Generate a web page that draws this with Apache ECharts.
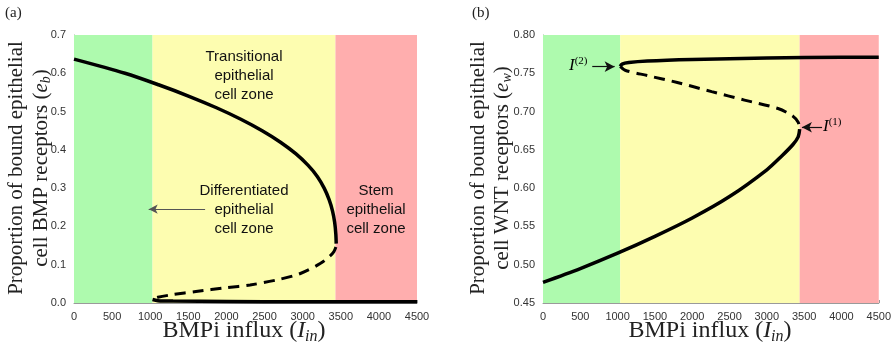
<!DOCTYPE html>
<html>
<head>
<meta charset="utf-8">
<script src="https://cdn.jsdelivr.net/npm/echarts@6/dist/echarts.min.js"></script>
<style>
html,body{margin:0;padding:0;background:#fff;}
#c{width:894px;height:346px;}
</style>
</head>
<body>
<div id="c"></div>
<script>
// ---------- data ----------
const xTicks = [0, 500, 1000, 1500, 2000, 2500, 3000, 3500, 4000, 4500];
const yTicksA = [0, 0.1, 0.2, 0.3, 0.4, 0.5, 0.6, 0.7];
const yTicksB = [0.45, 0.5, 0.55, 0.6, 0.65, 0.7, 0.75, 0.8];

const zoneBoundsA = [0, 1030, 3430, 4500];
const zoneBoundsB = [0, 1035, 3440, 4500];
const zoneNames = ['differentiated', 'transitional', 'stem'];

// Panel (a): e_b
const aUpperX = [0, 669, 1109, 1509, 1869, 2189, 2469, 2709, 2909, 3069, 3194, 3282, 3347, 3392, 3420, 3435, 3440];
const aUpperY = [0.637, 0.600, 0.570, 0.540, 0.510, 0.480, 0.450, 0.420, 0.390, 0.360, 0.330, 0.300, 0.270, 0.240, 0.210, 0.180, 0.155];
const aMidX = [3436, 3410, 3360, 3230, 2970, 2700, 2310, 2000, 1600, 1300, 1100, 1030];
const aMidY = [0.146, 0.134, 0.123, 0.103, 0.077, 0.062, 0.047, 0.040, 0.030, 0.022, 0.015, 0.010];
const aLowerX = [1030, 1100, 1300, 2000, 3000, 4000, 4500];
const aLowerY = [0.009, 0.006, 0.005, 0.004, 0.003, 0.003, 0.003];

// Panel (b): e_w
const bUpperX = [1035, 1060, 1150, 1400, 2000, 3000, 4000, 4500];
const bUpperY = [0.759, 0.762, 0.764, 0.766, 0.768, 0.770, 0.771, 0.771];
const bMidX = [1035, 1100, 1400, 1800, 2260, 2700, 3150, 3350, 3420, 3440];
const bMidY = [0.759, 0.754, 0.747, 0.738, 0.726, 0.715, 0.704, 0.694, 0.686, 0.678];
const bLowerX = [0, 500, 1000, 1500, 2000, 2500, 3000, 3200, 3350, 3420, 3440];
const bLowerY = [0.477, 0.495, 0.515, 0.537, 0.561, 0.589, 0.624, 0.642, 0.657, 0.667, 0.677];

// ---------- helpers ----------
const pairs = (xs, ys) => xs.map((x, i) => [x, ys[i]]);
const zoneColors = ['#aefaae', '#fdfdb0', '#ffaeae'];
const zonesFrom = b => zoneNames.map((n, i) => [
  {xAxis: b[i], itemStyle: {color: zoneColors[i]}},
  {xAxis: b[i + 1]}
]);

const tickFont = {fontFamily: 'Liberation Sans, Arial, sans-serif', fontSize: 11, color: '#333'};
const serif = 'Liberation Serif, DejaVu Serif, serif';

function xAxisCfg(gi) {
  return {
    type: 'value', gridIndex: gi, min: 0, max: 4500, interval: 500,
    axisLine: {show: true, onZero: false, lineStyle: {color: '#9a9a9a', width: 1}},
    axisTick: {show: true, inside: true, length: 3, lineStyle: {color: '#9a9a9a'}},
    axisLabel: Object.assign({margin: 8, formatter: v => String(v)}, tickFont),
    splitLine: {show: false}
  };
}
function yAxisCfg(gi, min, max, interval, dec) {
  return {
    type: 'value', gridIndex: gi, min: min, max: max, interval: interval,
    axisLine: {show: true, onZero: false, lineStyle: {color: '#9a9a9a', width: 1}},
    axisTick: {show: true, inside: true, length: 3, lineStyle: {color: '#9a9a9a'}},
    axisLabel: Object.assign({margin: 8, formatter: v => v.toFixed(dec)}, tickFont),
    splitLine: {show: false}
  };
}
const solid = {color: '#000', width: 3.5};
const dashed = {color: '#000', width: 3, type: [11, 7]};
function lineSeries(gi, data, style, extra) {
  return Object.assign({
    type: 'line', xAxisIndex: gi, yAxisIndex: gi, data: data,
    showSymbol: false, symbol: 'none', lineStyle: style, silent: true,
    smooth: 0.3, animation: false, z: 5
  }, extra || {});
}

const richLabel = {
  n: {fontFamily: serif, fontSize: 21, color: '#222'},
  i: {fontFamily: serif, fontSize: 21, fontStyle: 'italic', color: '#222'},
  s: {fontFamily: serif, fontSize: 14, fontStyle: 'italic', color: '#222', verticalAlign: 'bottom', lineHeight: 24}
};
const richX = {
  n: {fontFamily: serif, fontSize: 24, color: '#222'},
  i: {fontFamily: serif, fontSize: 24, fontStyle: 'italic', color: '#222'},
  s: {fontFamily: serif, fontSize: 16, fontStyle: 'italic', color: '#222', verticalAlign: 'bottom', lineHeight: 28}
};
const annFont = {fontFamily: 'Liberation Sans, Arial, sans-serif', fontSize: 15, fill: '#111', lineHeight: 19};
const supRich = {
  i: {fontFamily: serif, fontSize: 17, fontStyle: 'italic', color: '#111'},
  p: {fontFamily: serif, fontSize: 11, color: '#111', verticalAlign: 'top', lineHeight: 20}
};

function vText(x, y, str) {
  return {type: 'text', x: x, y: y, rotation: Math.PI / 2, silent: true, z: 100,
    style: {text: str, rich: richLabel, align: 'center', verticalAlign: 'middle', fontFamily: serif, fontSize: 21, fill: '#222'}};
}
function hText(x, y, str) {
  return {type: 'text', x: x, y: y, silent: true, z: 100,
    style: {text: str, rich: richX, align: 'center', verticalAlign: 'middle', fontFamily: serif, fontSize: 24, fill: '#222'}};
}
function annText(x, y, str) {
  return {type: 'text', x: x, y: y, silent: true, z: 100,
    style: Object.assign({text: str, align: 'center', verticalAlign: 'top'}, annFont)};
}

const chart = echarts.init(document.getElementById('c'), null, {renderer: 'canvas'});
chart.setOption({
  animation: false,
  backgroundColor: '#fff',
  grid: [
    {left: 74, top: 35, width: 343, height: 268},
    {left: 543, top: 35, width: 336, height: 268}
  ],
  xAxis: [xAxisCfg(0), xAxisCfg(1)],
  yAxis: [yAxisCfg(0, 0, 0.7, 0.1, 1), yAxisCfg(1, 0.45, 0.8, 0.05, 2)],
  series: [
    lineSeries(0, [], solid, {markArea: {silent: true, z: 1, data: zonesFrom(zoneBoundsA)}, z: 1}),
    lineSeries(0, pairs(aUpperX, aUpperY), solid),
    lineSeries(0, pairs(aMidX, aMidY), dashed),
    lineSeries(0, pairs(aLowerX, aLowerY), solid, {
      markLine: {silent: true, symbol: ['none', 'arrow'], symbolSize: [7, 9],
        label: {show: false}, lineStyle: {color: '#555', width: 1, type: 'solid'},
        data: [[{coord: [1720, 0.245]}, {coord: [980, 0.245]}]]}
    }),
    lineSeries(1, [], solid, {markArea: {silent: true, z: 1, data: zonesFrom(zoneBoundsB)}, z: 1}),
    lineSeries(1, pairs(bUpperX, bUpperY), solid),
    lineSeries(1, pairs(bMidX, bMidY), dashed),
    lineSeries(1, pairs(bLowerX, bLowerY), solid, {
      markLine: {silent: true, symbol: ['none', 'arrow'], symbolSize: [8, 10],
        label: {show: false}, lineStyle: {color: '#111', width: 1.2, type: 'solid'},
        data: [
          [{coord: [660, 0.7586]}, {coord: [960, 0.7586]}],
          [{coord: [3740, 0.6795]}, {coord: [3470, 0.6795]}]
        ]}
    })
  ],
  graphic: [
    {type: 'text', x: 5, y: 6, silent: true, z: 100, style: {text: '(a)', fontFamily: serif, fontSize: 15, fill: '#222'}},
    {type: 'text', x: 472, y: 6, silent: true, z: 100, style: {text: '(b)', fontFamily: serif, fontSize: 15, fill: '#222'}},
    vText(16, 168, '{n|Proportion of bound epithelial}'),
    vText(41, 168, '{n|cell BMP receptors (}{i|e}{s|b}{n|)}'),
    vText(478, 168, '{n|Proportion of bound epithelial}'),
    vText(502, 168, '{n|cell WNT receptors (}{i|e}{s|w}{n|)}'),
    hText(244, 331, '{n|BMPi influx (}{i|I}{s|in}{n|)}'),
    hText(710, 331, '{n|BMPi influx (}{i|I}{s|in}{n|)}'),
    annText(244, 47, 'Transitional\nepithelial\ncell zone'),
    annText(244, 181, 'Differentiated\nepithelial\ncell zone'),
    annText(376, 181, 'Stem\nepithelial\ncell zone'),
    {type: 'text', x: 569, y: 66, silent: true, z: 100, style: {text: '{i|I}{p|(2)}', rich: supRich, align: 'left', verticalAlign: 'middle'}},
    {type: 'text', x: 823, y: 127, silent: true, z: 100, style: {text: '{i|I}{p|(1)}', rich: supRich, align: 'left', verticalAlign: 'middle'}}
  ]
});
</script>
</body>
</html>
